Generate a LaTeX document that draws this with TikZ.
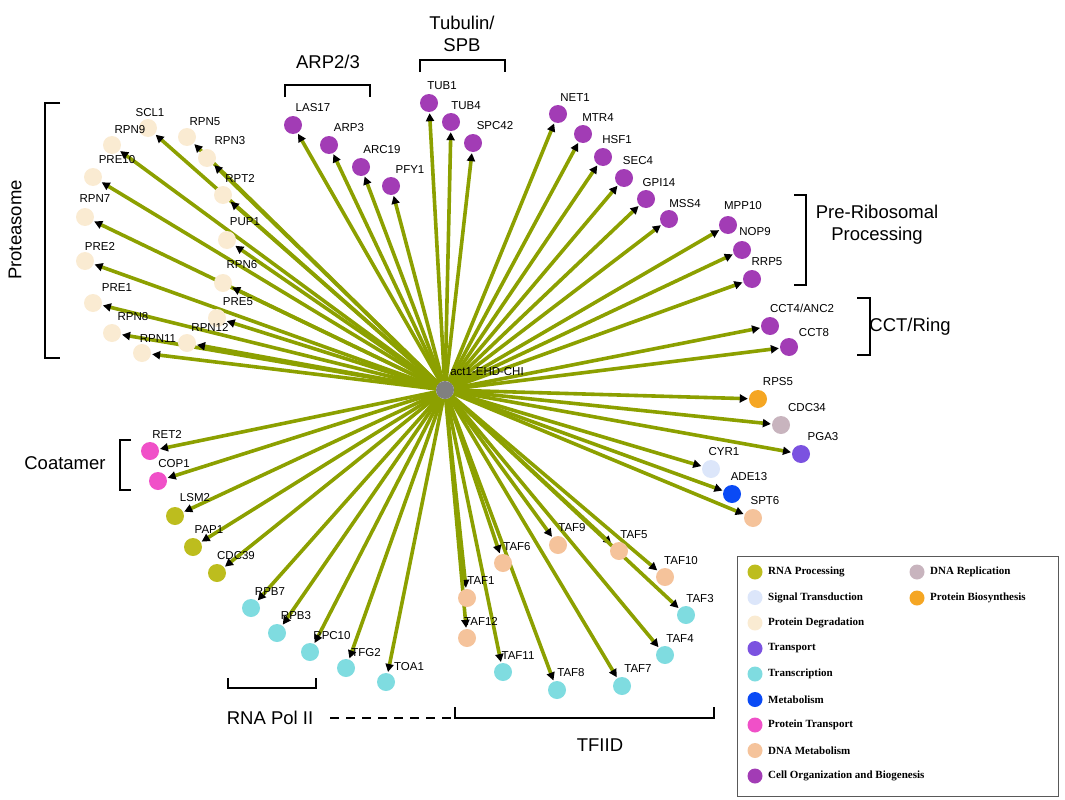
\documentclass[tikz,border=0pt]{standalone}
\usepackage{fontspec}
\setmainfont{Liberation Sans}
\newfontfamily\legfont{Liberation Serif}
\usetikzlibrary{arrows.meta,backgrounds}
\definecolor{edge}{HTML}{8CA000}
\definecolor{cRNA}{HTML}{BDBD1E}
\definecolor{cSig}{HTML}{DCE6FA}
\definecolor{cDeg}{HTML}{FAEBD2}
\definecolor{cTra}{HTML}{7B52E0}
\definecolor{cTsc}{HTML}{7FDCE0}
\definecolor{cMet}{HTML}{0A4AF5}
\definecolor{cPT}{HTML}{F050C8}
\definecolor{cDNA}{HTML}{F5C39B}
\definecolor{cCell}{HTML}{A23CB5}
\definecolor{cRep}{HTML}{C8B4BE}
\definecolor{cBio}{HTML}{F5A623}
\begin{document}
\begin{tikzpicture}[x=1pt,y=-1pt,
  prot/.style={circle,inner sep=0pt,minimum size=18pt},
  lab/.style={font=\fontsize{11.5}{12}\selectfont,inner sep=0pt},
  conn/.style={draw=edge,line width=3.6pt,-{Triangle[black,length=8pt,width=8pt]},shorten >=1pt},
  brk/.style={line width=2pt,black},
  big/.style={font=\fontsize{18.5}{22}\selectfont,inner sep=0pt,align=center},
  leg/.style={font=\legfont\bfseries\fontsize{11}{12}\selectfont,anchor=west,inner sep=0pt}]
\useasboundingbox (0,0) rectangle (1065,800);
\node[circle,fill=gray,inner sep=0pt,minimum size=18pt] (hub) at (445,390) {};
\node[lab] (hublab) at (487,372) {act1-EHD-CHI};
\foreach \x/\y/\c/\lx/\ly/\t [count=\i] in {
148/128/cDeg/150/113/SCL1, 112/145/cDeg/130/130/RPN9, 187/137/cDeg/205/122/RPN5,
207/158/cDeg/230/141/RPN3, 93/177/cDeg/117/160/PRE10, 223/195/cDeg/240/178/RPT2,
85/217/cDeg/95/199/RPN7, 227/240/cDeg/245/222/PUP1, 85/261/cDeg/100/246/PRE2,
223/283/cDeg/242/265/RPN6, 93/303/cDeg/117/288/PRE1, 217/318/cDeg/238/302/PRE5,
112/333/cDeg/133/317/RPN8, 187/343/cDeg/210/327/RPN12, 142/353/cDeg/158/339/RPN11,
293/125/cCell/313/108/LAS17, 329/145/cCell/349/128/ARP3, 361/167/cCell/382/150/ARC19,
391/186/cCell/410/170/PFY1, 429/103/cCell/442/86/TUB1, 451/122/cCell/466/106/TUB4,
473/143/cCell/495/126/SPC42, 558/114/cCell/575/98/NET1, 583/134/cCell/598/118/MTR4,
603/157/cCell/617/140/HSF1, 624/178/cCell/638/161/SEC4, 646/199/cCell/659/183/GPI14,
669/219/cCell/685/204/MSS4, 728/225/cCell/743/206/MPP10, 742/250/cCell/755/232/NOP9,
752/279/cCell/767/262/RRP5, 789/347/cCell/814/333/CCT8,
758/399/cBio/778/382/RPS5, 781/425/cRep/807/408/CDC34, 801/454/cTra/823/437/PGA3,
711/469/cSig/724/452/CYR1, 732/494/cMet/749/477/ADE13, 753/518/cDNA/765/501/SPT6,
558/545/cDNA/572/528/TAF9, 619/551/cDNA/634/535/TAF5, 665/577/cDNA/681/561/TAF10,
686/615/cTsc/700/599/TAF3, 665/655/cTsc/680/639/TAF4, 622/686/cTsc/638/669/TAF7,
557/690/cTsc/571/673/TAF8, 503/672/cTsc/518/656/TAF11, 503/563/cDNA/517/547/TAF6,
467/598/cDNA/481/581/TAF1, 467/638/cDNA/481/621/TAF12,
150/451/cPT/167/434/RET2, 158/481/cPT/174/464/COP1, 175/516/cRNA/195/498/LSM2,
193/547/cRNA/209/530/PAP1, 217/573/cRNA/236/556/CDC39, 251/608/cTsc/270/592/RPB7,
277/633/cTsc/296/616/RPB3, 310/652/cTsc/332/636/RPC10, 346/668/cTsc/366/653/TFG2,
386/682/cTsc/409/667/TOA1} {
  \node[prot,fill=\c] (p\i) at (\x,\y) {};
  \node[lab] (l\i) at (\lx,\ly) {\t};
  \begin{scope}[on background layer]
    \draw[conn] (hub) -- (p\i);
  \end{scope}
}
\node[prot,fill=cCell] (pcct4) at (770,326) {};
\node[lab] (lcct4) at (802,308) {CCT4/ANC2};
\begin{scope}[on background layer]\draw[conn] (hub) -- (pcct4);\end{scope}
% brackets
\draw[brk] (60,103) -- (45,103) -- (45,358) -- (60,358);
\node[big,rotate=90] (tprot) at (15,230) {Proteasome};
\draw[brk] (285,97) -- (285,85) -- (370,85) -- (370,97);
\node[big] (tarp) at (328,62) {ARP2/3};
\draw[brk] (420,72) -- (420,60) -- (505,60) -- (505,72);
\node[big] (ttub) at (462,34) {Tubulin/\\SPB};
\draw[brk] (794,195) -- (806,195) -- (806,285) -- (794,285);
\node[big] (tpre) at (877,225) {Pre-Ribosomal\\Processing};
\draw[brk] (857,298) -- (870,298) -- (870,355) -- (857,355);
\node[big] (tcct) at (910,327) {CCT/Ring};
\draw[brk] (131,440) -- (120,440) -- (120,490) -- (131,490);
\node[big] (tcoa) at (65,463) {Coatamer};
\draw[brk] (228,678) -- (228,688) -- (316,688) -- (316,678);
\node[big] (tpol) at (270,718) {RNA Pol II};
\draw[brk,dash pattern=on 9pt off 7pt] (330,718) -- (455,718);
\draw[brk] (455,707) -- (455,718) -- (714,718) -- (714,707);
\node[big] (ttf) at (600,745) {TFIID};
% legend
\draw[gray!70!black,line width=0.8pt] (737,556) rectangle (1058,796);
\foreach \c/\t [count=\i] in {cRNA/RNA Processing, cSig/Signal Transduction, cDeg/Protein Degradation,
  cTra/Transport, cTsc/Transcription, cMet/Metabolism, cPT/Protein Transport, cDNA/DNA Metabolism,
  cCell/Cell Organization and Biogenesis} {
  \node[circle,fill=\c,inner sep=0pt,minimum size=15pt] (lc\i) at (755,{572+25.5*(\i-1)}) {};
  \node[leg] (lt\i) at (768,{572+25.5*(\i-1)}) {\t};
}
\node[circle,fill=cRep,inner sep=0pt,minimum size=15pt] (lcr) at (917,572) {};
\node[leg] (ltr) at (930,572) {DNA Replication};
\node[circle,fill=cBio,inner sep=0pt,minimum size=15pt] (lcb) at (917,598) {};
\node[leg] (ltb) at (930,598) {Protein Biosynthesis};
\end{tikzpicture}
\end{document}
